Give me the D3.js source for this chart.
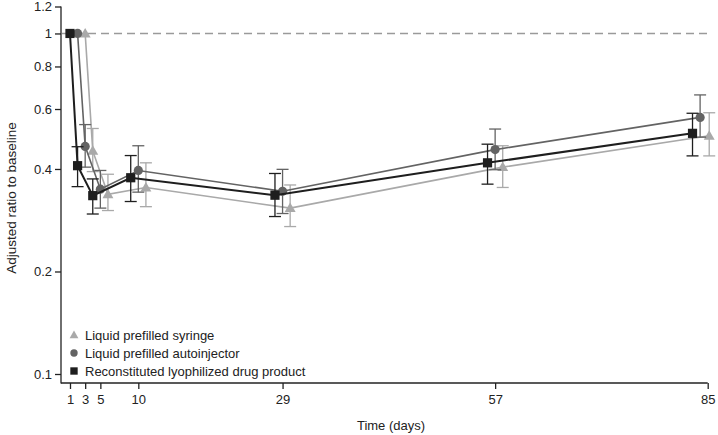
<!DOCTYPE html>
<html>
<head>
<meta charset="utf-8">
<script src="https://cdn.jsdelivr.net/npm/d3@7"></script>
<style>
  body { margin: 0; background: #fff; }
  svg { font-family: "Liberation Sans", Arial, sans-serif; }
</style>
</head>
<body>
<div id="chart"></div>
<script>
// nominal visits and tick labels
const TICK_DAYS = [1, 3, 5, 10, 29, 57, 85];
const Y_TICKS = [0.1, 0.2, 0.4, 0.6, 0.8, 1, 1.2];

// plotted day positions (series are staggered around each visit)
const syringeDays = [3, 4, 6, 11, 30, 58, 85.2];
const autoDays = [2, 3, 5, 10, 29, 57, 84];
const lyoDays = [1, 2, 4, 9, 28, 56, 83];

// adjusted ratio to baseline, with lower / upper error bounds
const syringeMean = [1.0, 0.452, 0.337, 0.353, 0.307, 0.405, 0.501];
const syringeLow = [1.0, 0.393, 0.302, 0.31, 0.271, 0.353, 0.437];
const syringeHigh = [1.0, 0.526, 0.386, 0.417, 0.359, 0.468, 0.585];

const autoMean = [1.0, 0.466, 0.349, 0.396, 0.344, 0.456, 0.567];
const autoLow = [1.0, 0.405, 0.307, 0.342, 0.296, 0.398, 0.496];
const autoHigh = [1.0, 0.54, 0.396, 0.468, 0.399, 0.524, 0.66];

const lyoMean = [1.0, 0.409, 0.334, 0.377, 0.335, 0.417, 0.509];
const lyoLow = [1.0, 0.355, 0.295, 0.321, 0.29, 0.361, 0.437];
const lyoHigh = [1.0, 0.465, 0.374, 0.438, 0.388, 0.473, 0.583];

const series = [
    { name: "Liquid prefilled syringe", shape: "triangle", color: "#a9a9a9", width: 1.6,
      days: syringeDays, mean: syringeMean, low: syringeLow, high: syringeHigh },
    { name: "Liquid prefilled autoinjector", shape: "circle", color: "#636363", width: 1.6,
      days: autoDays, mean: autoMean, low: autoLow, high: autoHigh },
    { name: "Reconstituted lyophilized drug product", shape: "square", color: "#1e1e1e", width: 2,
      days: lyoDays, mean: lyoMean, low: lyoLow, high: lyoHigh }
];

const W = 718, H = 435;
const svg = d3.select("#chart").append("svg").attr("width", W).attr("height", H);

const x = d3.scaleLinear().domain([0, 85]).range([62.4, 707.7]);
const y = d3.scaleLog().domain([0.1, 1.2]).range([374, 6.5]);

const axisColor = "#222";

// reference line at 1
svg.append("line")
    .attr("x1", 62).attr("x2", x(85))
    .attr("y1", y(1)).attr("y2", y(1))
    .attr("stroke", "#9a9a9a").attr("stroke-width", 1.4)
    .attr("stroke-dasharray", "8,5");

// y axis
const yAxis = svg.append("g")
    .attr("transform", "translate(61,0)")
    .call(d3.axisLeft(y).tickValues(Y_TICKS).tickFormat(d3.format("")).tickSize(6).tickSizeOuter(0));
yAxis.select(".domain").remove();
yAxis.append("line").attr("x1", 0).attr("x2", 0).attr("y1", y(1.2)).attr("y2", 383.5)
    .attr("stroke", axisColor).attr("stroke-width", 1.3);
yAxis.selectAll(".tick line").attr("stroke", axisColor).attr("stroke-width", 1.3);
yAxis.selectAll(".tick text").attr("fill", "#222").style("font-size", "13px").attr("x", -9);

// x axis
const xAxis = svg.append("g")
    .attr("transform", "translate(0,383)")
    .call(d3.axisBottom(x).tickValues(TICK_DAYS).tickSize(6).tickSizeOuter(0));
xAxis.select(".domain").remove();
xAxis.append("line").attr("x1", 61).attr("x2", x(85)).attr("y1", 0).attr("y2", 0)
    .attr("stroke", axisColor).attr("stroke-width", 1.3);
xAxis.selectAll(".tick line").attr("stroke", axisColor).attr("stroke-width", 1.3);
xAxis.selectAll(".tick text").attr("fill", "#222").style("font-size", "13px").attr("y", 12);

// axis titles
svg.append("text")
    .attr("x", 391).attr("y", 430)
    .attr("text-anchor", "middle")
    .attr("fill", "#222").style("font-size", "13px")
    .text("Time (days)");
svg.append("text")
    .attr("transform", "translate(16,198) rotate(-90)")
    .attr("text-anchor", "middle")
    .attr("fill", "#222").style("font-size", "13.5px")
    .text("Adjusted ratio to baseline");

function drawMarker(g, shape, cx, cy, color, scale) {
    const s = scale || 1;
    if (shape === "circle") {
        g.append("circle").attr("cx", cx).attr("cy", cy).attr("r", 4.6 * s).attr("fill", color);
    } else if (shape === "square") {
        g.append("rect").attr("x", cx - 4.6 * s).attr("y", cy - 4.6 * s)
            .attr("width", 9.2 * s).attr("height", 9.2 * s).attr("fill", color);
    } else {
        g.append("path")
            .attr("d", d3.symbol().type(d3.symbolTriangle).size(52 * s * s)())
            .attr("transform", `translate(${cx},${cy + 0.8 * s})`)
            .attr("fill", color);
    }
}

series.forEach(s => {
    const g = svg.append("g");
    const pts = s.days.map((d, i) => ({ day: d, mean: s.mean[i], low: s.low[i], high: s.high[i] }));

    // error bars
    pts.forEach(p => {
        if (p.low === p.high) return;
        const cx = x(p.day);
        g.append("line").attr("x1", cx).attr("x2", cx).attr("y1", y(p.low)).attr("y2", y(p.high))
            .attr("stroke", s.color).attr("stroke-width", 1.3);
        [p.low, p.high].forEach(v => {
            g.append("line").attr("x1", cx - 6).attr("x2", cx + 6).attr("y1", y(v)).attr("y2", y(v))
                .attr("stroke", s.color).attr("stroke-width", 1.3);
        });
    });

    g.append("path")
        .datum(pts)
        .attr("fill", "none")
        .attr("stroke", s.color)
        .attr("stroke-width", s.width)
        .attr("d", d3.line().x(d => x(d.day)).y(d => y(d.mean)));

    pts.forEach(p => drawMarker(g, s.shape, x(p.day), y(p.mean), s.color));
});

// legend
const legend = svg.append("g").attr("transform", "translate(74,335)");
series.forEach((s, i) => {
    const row = legend.append("g").attr("transform", `translate(0,${i * 18})`);
    drawMarker(row, s.shape, 0, 0, s.color, 0.8);
    row.append("text").attr("x", 11).attr("y", 4.5)
        .attr("fill", "#222").style("font-size", "13px")
        .text(s.name);
});
</script>
</body>
</html>
